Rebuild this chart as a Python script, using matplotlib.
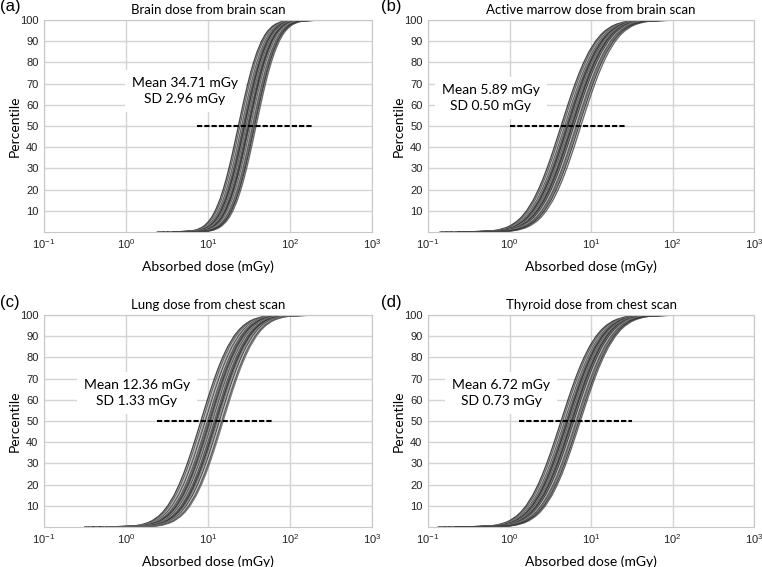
import numpy as np
import matplotlib
matplotlib.use("Agg")
import matplotlib.pyplot as plt

plt.rcParams['mathtext.fontset'] = 'custom'
plt.rcParams['mathtext.rm'] = 'Liberation Sans'
plt.rcParams['mathtext.it'] = 'Liberation Sans'
plt.rcParams['mathtext.default'] = 'regular'

# percentile levels and their offsets (in units of the curve spread, log10 dose)
pct = [0, 0.02, 0.5, 1, 2, 3, 5, 7, 10, 15, 20, 25, 30, 35, 40, 45, 50,
       55, 60, 65, 70, 75, 80, 85, 90, 93, 95, 97, 98, 99, 99.5, 99.98, 100]
z_off = [-4.5, -3.5, -2.576, -2.326, -2.054, -1.881, -1.645, -1.476, -1.282,
         -1.036, -0.842, -0.674, -0.524, -0.385, -0.253, -0.126, 0,
         0.126, 0.253, 0.385, 0.524, 0.674, 0.842, 1.036, 1.282, 1.476,
         1.645, 1.881, 2.054, 2.326, 2.576, 3.5, 4.5]

titles = ["Brain dose from brain scan", "Active marrow dose from brain scan",
          "Lung dose from chest scan", "Thyroid dose from chest scan"]
panel_tags = ["(a)", "(b)", "(c)", "(d)"]
stats_text = ["Mean 34.71 mGy\nSD 2.96 mGy", "Mean 5.89 mGy\nSD 0.50 mGy",
              "Mean 12.36 mGy\nSD 1.33 mGy", "Mean 6.72 mGy\nSD 0.73 mGy"]

# median dose (mGy) of each simulated curve, per panel
medians_a = [23.5, 24.5, 25.5, 26, 26.5, 27, 27.5, 28, 28.5, 29, 29.5, 30,
             30.5, 31, 31.5, 32, 33, 33.5, 34, 35, 36, 37, 38.5]
medians_b = [4.3, 4.5, 4.7, 4.8, 4.9, 5.0, 5.1, 5.2, 5.3, 5.4, 5.5, 5.6,
             5.7, 5.8, 5.9, 6.0, 6.1, 6.2, 6.4, 6.6, 6.8, 7.1, 7.5]
medians_c = [8.2, 8.6, 9.0, 9.3, 9.6, 9.9, 10.2, 10.5, 10.8, 11.1, 11.4,
             11.7, 12.0, 12.3, 12.6, 13.0, 13.4, 13.8, 14.3, 14.8, 15.3]
medians_d = [4.3, 4.5, 4.7, 4.8, 4.9, 5.0, 5.1, 5.2, 5.3, 5.4, 5.5, 5.6,
             5.7, 5.8, 5.9, 6.0, 6.1, 6.2, 6.4, 6.6, 6.8, 7.1, 7.4]
medians = [medians_a, medians_b, medians_c, medians_d]
# spread of each curve (log10 decades per unit offset)
spreads = [0.22, 0.33, 0.315, 0.335]

# dashed 50th-percentile marker extents (mGy)
dash_start = [7.4, 1.0, 2.36, 1.29]
dash_end = [188, 26.6, 60, 31.8]
# stats label position (dose, percentile)
label_x = [5.2, 0.59, 1.36, 0.79]
label_y = [66.5, 63, 63, 63]

grays = ['#1f1f1f', '#454545', '#9a9a9a', '#2c2c2c', '#b8b8b8', '#383838', '#5e5e5e']

fig = plt.figure(figsize=(7.62, 5.67), dpi=100)
W, H = 762, 567
boxes = [(44, 20, 372, 232), (428, 20, 754, 232),
         (44, 315, 372, 527), (428, 315, 754, 527)]
tag_x = [0, 381, 0, 381]

for i in range(4):
    x0, y0, x1, y1 = boxes[i]
    ax = fig.add_axes([x0 / W, 1 - y1 / H, (x1 - x0) / W, (y1 - y0) / H])
    ax.set_xscale('log')
    ax.set_xlim(0.1, 1000)
    ax.set_ylim(0, 100)
    ax.set_axisbelow(True)
    ax.grid(True, color='#d4d4d4', lw=1.0)
    for s in ax.spines.values():
        s.set_color('#c8c8c8')
    ax.set_yticks(range(10, 101, 10))
    ax.set_xticks([0.1, 1, 10, 100, 1000])
    ax.minorticks_off()
    ax.tick_params(length=0, labelsize=8, colors='#222222', pad=4)
    for lab in ax.get_xticklabels() + ax.get_yticklabels():
        lab.set_family('Liberation Sans')

    for k, m in enumerate(medians[i]):
        dose = m * 10 ** (spreads[i] * np.array(z_off))
        ax.plot(dose, pct, color=grays[k % len(grays)], lw=1.0, alpha=0.8, zorder=2)

    ax.plot([dash_start[i], dash_end[i]], [50, 50], color='black', lw=1.5,
            ls=(0, (2.5, 1.0)), zorder=3)
    ax.text(label_x[i], label_y[i], stats_text[i], ha='center', va='center',
            multialignment='center', fontsize=10, family='Lato', linespacing=1.4,
            bbox=dict(facecolor='white', edgecolor='none', pad=5), zorder=1.5)

    ax.set_xlabel("Absorbed dose (mGy)", fontsize=10, family='Lato')
    ax.xaxis.set_label_coords(0.5, -0.135)
    ax.set_ylabel("Percentile", fontsize=10, family='Lato')
    ax.yaxis.set_label_coords(-0.07, 0.5)
    ax.set_title(titles[i], fontsize=9.5, family='Lato', pad=4)
    fig.text(tag_x[i] / W, 1 - (y0 - 13) / H, panel_tags[i], fontsize=12,
             family='Liberation Sans', va='center', ha='left')

fig.savefig("out.png", dpi=100)
